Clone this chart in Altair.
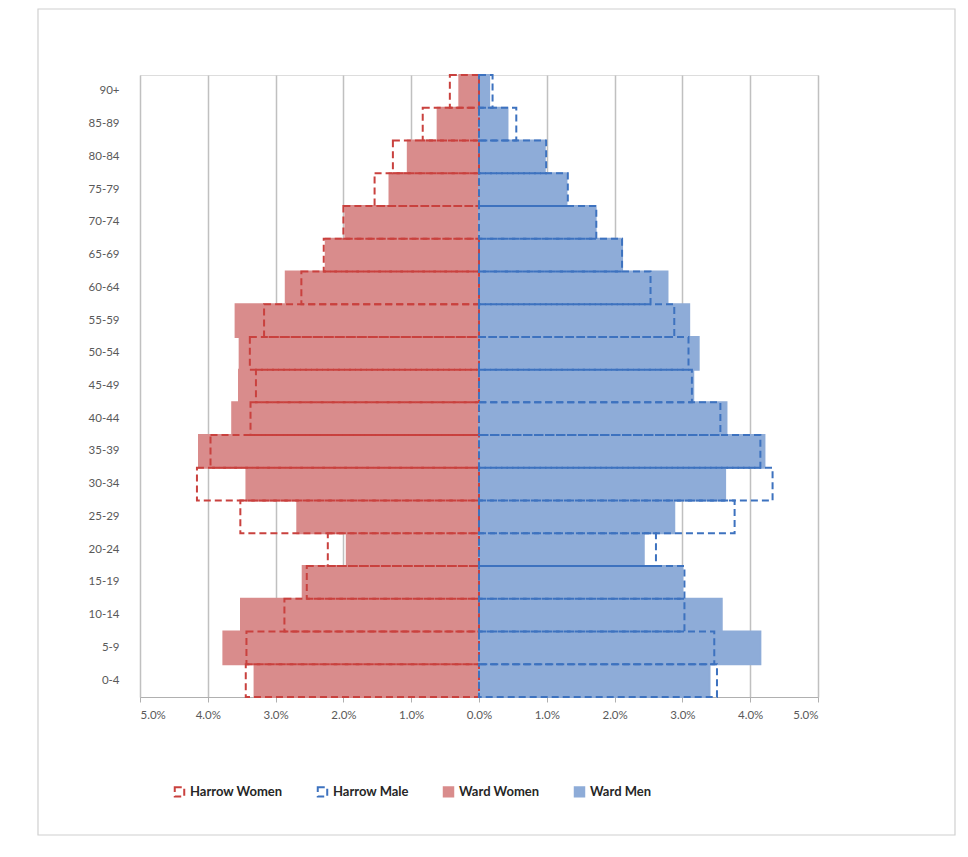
import altair as alt
import pandas as pd

ages = ["90+", "85-89", "80-84", "75-79", "70-74", "65-69", "60-64", "55-59", "50-54",
        "45-49", "40-44", "35-39", "30-34", "25-29", "20-24", "15-19", "10-14", "5-9", "0-4"]
ward_women = [0.29, 0.61, 1.05, 1.32, 1.97, 2.26, 2.85, 3.59, 3.53, 3.54, 3.64, 4.13, 3.43, 2.68, 1.95, 2.60, 3.51, 3.77, 3.31]
harrow_women = [0.43, 0.83, 1.27, 1.54, 2.00, 2.29, 2.62, 3.17, 3.38, 3.29, 3.37, 3.96, 4.16, 3.52, 2.23, 2.54, 2.87, 3.43, 3.44]
ward_men = [0.15, 0.42, 0.97, 1.29, 1.72, 2.11, 2.78, 3.10, 3.24, 3.16, 3.65, 4.21, 3.63, 2.88, 2.43, 3.00, 3.58, 4.15, 3.40]
harrow_men = [0.20, 0.55, 0.99, 1.31, 1.73, 2.11, 2.53, 2.88, 3.09, 3.14, 3.56, 4.15, 4.33, 3.77, 2.61, 3.03, 3.03, 3.47, 3.51]

series_names = ["Harrow Women", "Harrow Male", "Ward Women", "Ward Men"]

rows = []
# Ward bars first (drawn underneath), then Harrow outlines on top
for a, v in zip(ages, ward_women):
    rows.append({"age": a, "series": "Ward Women", "value": -v})
for a, v in zip(ages, ward_men):
    rows.append({"age": a, "series": "Ward Men", "value": v})
for a, v in zip(ages, harrow_women):
    rows.append({"age": a, "series": "Harrow Women", "value": -v})
for a, v in zip(ages, harrow_men):
    rows.append({"age": a, "series": "Harrow Male", "value": v})
df = pd.DataFrame(rows)

FONT = "Lato"

leg = dict(title=None, orient="none", legendX=33, legendY=710, direction="horizontal",
           columns=4, columnPadding=30, symbolType="square", symbolSize=90,
           symbolStrokeWidth=2, labelFont=FONT, labelFontSize=13, labelFontWeight="bold",
           labelColor="#262626", labelOffset=4)

# chart-area frame (decoration only)
frame = alt.Chart(pd.DataFrame({"f": [0]})).mark_rect(
    fill="transparent", stroke="#d0d0d0", strokeWidth=1.2
).encode(
    x=alt.value(-102), x2=alt.value(815), y=alt.value(-66), y2=alt.value(760)
)

bars = alt.Chart(df).mark_bar(strokeWidth=2).encode(
    x=alt.X("value:Q", stack=None,
            scale=alt.Scale(domain=[-5, 5], nice=False),
            axis=alt.Axis(values=[-5, -4, -3, -2, -1, 0, 1, 2, 3, 4, 5],
                          labelExpr="format(abs(datum.value)/100, '.1%')",
                          title=None, grid=True, gridColor="#c0c0c0", gridWidth=1.5,
                          domainColor="#b0b0b0", tickColor="#b0b0b0", tickSize=5,
                          labelColor="#595959", labelFontSize=11.5, labelFont=FONT,
                          labelPadding=7)),
    y=alt.Y("age:N", sort=ages,
            scale=alt.Scale(paddingInner=0, paddingOuter=0),
            axis=alt.Axis(title=None, ticks=False, domain=False, grid=False,
                          labelColor="#595959", labelFontSize=11.5, labelFont=FONT,
                          labelPadding=21)),
    fill=alt.Fill("series:N",
                  scale=alt.Scale(domain=series_names,
                                  range=["transparent", "transparent", "#d98c8c", "#8eacd8"]),
                  legend=alt.Legend(**leg)),
    stroke=alt.Stroke("series:N",
                      scale=alt.Scale(domain=series_names,
                                      range=["#c9413e", "#3d72bf", "#d98c8c", "#8eacd8"]),
                      legend=alt.Legend(**leg)),
    strokeDash=alt.StrokeDash("series:N",
                              scale=alt.Scale(domain=series_names,
                                              range=[[7, 4], [7, 4], [1, 0], [1, 0]]),
                              legend=alt.Legend(**leg)),
)

chart = alt.layer(frame, bars).properties(
    width=678, height=622,
    autosize=alt.AutoSizeParams(type="none"),
    padding={"left": 132, "top": 67, "right": 140, "bottom": 150},
).configure_view(
    stroke=None
).configure(background="white")

chart.save("out.html", embed_options={"renderer": "svg", "actions": False})
